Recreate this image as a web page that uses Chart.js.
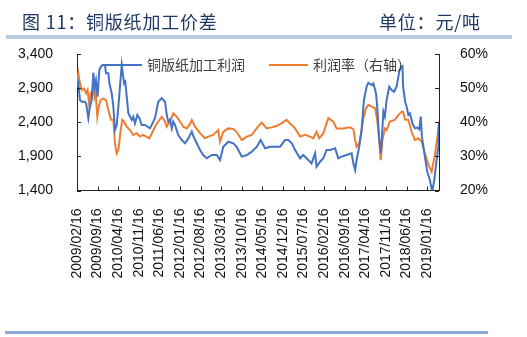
<!DOCTYPE html>
<html>
<head>
<meta charset="utf-8">
<script src="https://cdn.jsdelivr.net/npm/chart.js@4.4.0/dist/chart.umd.min.js"></script>
<style>
  html, body { margin: 0; padding: 0; background: #fff; }
  #wrap { position: relative; width: 527px; height: 337px; overflow: hidden; }
  #chart { position: absolute; left: 0; top: 0; }
  .head { position: absolute; top: 8px; font-family: "Noto Sans CJK SC"; font-size: 18px; letter-spacing: 0.8px; color: #1f3864; white-space: nowrap; }
  #title { left: 22px; }
  #unit { left: 379px; }
  #topRule { position: absolute; left: 6px; top: 35px; width: 506px; height: 4px; background: #b9cbe0; }
  #bottomRule { position: absolute; left: 5px; top: 331px; width: 483px; height: 3px; background: #8eaadb; }
</style>
</head>
<body>
<div id="wrap">
  <canvas id="chart" width="527" height="337"></canvas>
  <div class="head" id="title">图 11：铜版纸加工价差</div>
  <div class="head" id="unit">单位：元/吨</div>
  <div id="topRule"></div>
  <div id="bottomRule"></div>
</div>
<script>
// months counted from 2009/02/16
const tickLabels = ['2009/02/16', '2009/09/16', '2010/04/16', '2010/11/16', '2011/06/16', '2012/01/16',
  '2012/08/16', '2013/03/16', '2013/10/16', '2014/05/16', '2014/12/16', '2015/07/16', '2016/02/16',
  '2016/09/16', '2017/04/16', '2017/11/16', '2018/06/16', '2019/01/16'];
const leftTicks = [1400, 1900, 2400, 2900, 3400];
const rightTicks = [20, 25, 30, 35, 40, 45, 50, 55, 60];

// 铜版纸加工利润 (元/吨)
const profitMonth = [0, 0.45, 1, 1.6, 2.7, 3.1, 3.85, 4.4, 5, 5.55, 6, 6.45, 7, 7.6, 8.15, 8.7, 9.5, 9.85,
  10.65, 11, 11.8, 12.35, 12.9, 13.5, 14.05, 15.2, 16, 16.4, 16.9, 17.45, 18.6, 19.1, 19.7, 20.5, 21.2, 22,
  23.1, 24.8, 26.5, 27.6, 28.8, 29.9, 30.5, 31, 31.6, 32.2, 32.7, 33.3, 34.4, 35.6, 36.7, 37.8, 39, 39.5,
  40.7, 41.8, 42.9, 44.1, 45.8, 47.5, 48.6, 49.7, 51.4, 53.1, 54.2, 56, 57.7, 59.4, 61.1, 62.4, 63.9, 65.6,
  67.3, 69, 70.7, 71.8, 73, 74.1, 75.8, 76.9, 78.6, 79.7, 80.9, 81.4, 82.6, 83.7, 84.8, 86, 87.7, 88.8, 89.9,
  91.6, 93.3, 93.9, 94.5, 95, 95.9, 96.7, 97.5, 98.4, 99, 100.1, 100.7, 101.6, 102, 102.7, 103.2, 103.6,
  104.1, 104.6, 105.2, 106.1, 106.9, 107.7, 108.6, 109.5, 110.1, 110.6, 110.8, 111.5, 112, 112.6, 113.1,
  114, 114.8, 115.6, 116.3, 116.8, 117.2, 118.2, 119, 119.9, 120.7, 121.4, 122.2, 122.8, 123];
const profitValue = [2921, 2980, 2726, 2701, 2701, 2678, 2458, 2628, 2726, 3126, 2921, 3019, 2775, 3166,
  3214, 3239, 3239, 3117, 3117, 2971, 2824, 2628, 2287, 2360, 2628, 3239, 2971, 2995, 2775, 2531, 2433,
  2482, 2384, 2506, 2458, 2360, 2360, 2311, 2458, 2701, 2751, 2701, 2506, 2409, 2440, 2311, 2409, 2360,
  2213, 2140, 2092, 2160, 2262, 2200, 2092, 1994, 1920, 1872, 1920, 1920, 1847, 2042, 2115, 2092, 2042,
  1896, 1920, 1969, 2042, 2140, 2018, 2042, 2042, 2042, 2140, 2140, 2092, 1994, 1872, 1920, 1847, 1798,
  1945, 1749, 1822, 1872, 1994, 1994, 2018, 1872, 1896, 1920, 1945, 1798, 1701, 1847, 2042, 2287, 2726,
  2921, 2980, 2946, 2971, 2824, 2628, 2140, 1945, 2189, 2555, 2482, 2726, 2921, 2873, 2848, 2921, 3141,
  3214, 3224, 2921, 2701, 2628, 2506, 2531, 2384, 2311, 2323, 2298, 2482, 2189, 1896, 1677, 1555, 1380,
  1555, 1847, 2042, 2380];

// 利润率（右轴） (%)
const marginMonth = [0, 0.45, 0.8, 1.6, 2.4, 3.1, 3.6, 4.1, 4.7, 5.55, 5.9, 6.3, 6.9, 7.4, 8, 8.9, 9.85,
  10.65, 11.55, 12.35, 12.9, 13.5, 14.05, 14.85, 15.4, 16, 16.9, 18, 19.1, 20.3, 21.4, 22.5, 24.6, 26.8,
  28.8, 29.9, 30.5, 31.6, 32.7, 33.9, 35, 36.1, 37.3, 38.4, 39, 40.1, 41.8, 43.5, 44.6, 46.3, 48, 48.6,
  49.7, 51.4, 53.1, 54.2, 56, 57.7, 59.4, 61.3, 62.8, 64.4, 66.1, 67.8, 69.5, 71.2, 72.3, 74.1, 75.8, 77.5,
  79.2, 80.3, 81.4, 82.3, 83.7, 85.4, 87.1, 88.2, 90.5, 92.7, 93.9, 94.5, 95, 95.9, 96.7, 97.2, 98.2, 99,
  100.1, 101.3, 102, 102.7, 103.2, 103.8, 104.6, 105.2, 106.3, 108, 109.2, 110.3, 110.8, 111.5, 112.6,
  113.7, 114.8, 116, 117.1, 118.2, 119.4, 120.5, 121.6, 122.5, 123];
const marginValue = [51.4, 54.3, 52.4, 49.4, 49.9, 48.5, 49.4, 45.5, 48.5, 49.9, 47.5, 49.4, 41.6, 44.6,
  46.5, 47.0, 46.5, 43.6, 40.7, 40.7, 33.8, 30.9, 31.9, 37.7, 40.7, 40.2, 38.7, 37.7, 36.3, 36.8, 35.8,
  36.3, 35.3, 39.2, 41.6, 40.2, 38.7, 40.2, 42.6, 41.6, 40.2, 38.7, 38.2, 39.5, 40.7, 38.7, 36.8, 35.3,
  35.8, 36.3, 37.7, 34.3, 37.2, 38.2, 38.0, 37.2, 34.8, 35.8, 36.3, 38.5, 39.9, 38.2, 38.5, 38.9, 39.7,
  40.7, 39.7, 38.2, 35.8, 36.3, 35.8, 35.3, 37.2, 35.3, 36.8, 41.2, 40.2, 38.2, 38.2, 38.5, 38.0, 34.8,
  32.8, 33.8, 37.7, 40.7, 44.1, 45.1, 44.6, 44.1, 40.7, 34.8, 28.9, 34.8, 38.2, 37.7, 40.2, 40.7, 42.1,
  43.1, 43.1, 40.7, 40.7, 37.2, 34.8, 35.3, 34.3, 30.9, 27.5, 25.5, 30.4, 35.8, 40.2];

const BLUE = '#4472c4';
const ORANGE = '#ed7d31';
const AXIS = '#222';
const tickFont = { family: 'Liberation Sans', size: 14 };

// ticks point into the plot, like the source
const innerTicks = {
  id: 'innerTicks',
  afterDraw(chart) {
    const { ctx, chartArea: a, scales } = chart;
    ctx.save();
    ctx.strokeStyle = AXIS;
    ctx.lineWidth = 1;
    ctx.beginPath();
    scales.y.ticks.forEach(t => {
      const y = Math.round(scales.y.getPixelForValue(t.value)) + 0.5;
      ctx.moveTo(a.left, y); ctx.lineTo(a.left + 4, y);
    });
    scales.y1.ticks.forEach(t => {
      const y = Math.round(scales.y1.getPixelForValue(t.value)) + 0.5;
      ctx.moveTo(a.right, y); ctx.lineTo(a.right - 4, y);
    });
    scales.x.ticks.forEach(t => {
      const x = Math.round(scales.x.getPixelForValue(t.value)) + 0.5;
      ctx.moveTo(x, a.bottom); ctx.lineTo(x, a.bottom - 4);
    });
    ctx.stroke();
    ctx.restore();
  }
};

// legend sits inside the plot area
const innerLegend = {
  id: 'innerLegend',
  afterDraw(chart) {
    const { ctx, chartArea: a } = chart;
    const y = a.top + 11;
    const items = [[a.left + 26, 0], [a.left + 192, 1]];
    ctx.save();
    ctx.font = '14px "Noto Sans CJK SC"';
    ctx.textBaseline = 'middle';
    items.forEach(([x, i]) => {
      const ds = chart.data.datasets[i];
      ctx.strokeStyle = ds.borderColor;
      ctx.lineWidth = 2;
      ctx.beginPath();
      ctx.moveTo(x, y); ctx.lineTo(x + 39, y);
      ctx.stroke();
      ctx.fillStyle = '#404040';
      ctx.fillText(ds.label, x + 44, y);
    });
    ctx.restore();
  }
};

new Chart(document.getElementById('chart'), {
  type: 'line',
  data: {
    datasets: [
      {
        label: '铜版纸加工利润',
        data: profitMonth.map((m, i) => ({ x: m, y: profitValue[i] })),
        borderColor: BLUE, borderWidth: 2, pointRadius: 0, yAxisID: 'y'
      },
      {
        label: '利润率（右轴）',
        data: marginMonth.map((m, i) => ({ x: m, y: marginValue[i] })),
        borderColor: ORANGE, borderWidth: 2, pointRadius: 0, yAxisID: 'y1'
      }
    ]
  },
  options: {
    responsive: false,
    animation: false,
    layout: { padding: { top: 54, left: 0, right: 0, bottom: 0 } },
    plugins: { legend: { display: false }, tooltip: { enabled: false } },
    scales: {
      x: {
        type: 'linear', min: 0, max: 123,
        afterBuildTicks: s => { s.ticks = tickLabels.map((_, i) => ({ value: i * 7 })); },
        afterFit: s => { s.height = 146.5; },
        ticks: {
          autoSkip: false, minRotation: 90, maxRotation: 90, padding: 10,
          font: tickFont, color: '#111',
          callback: (v, i) => tickLabels[i]
        },
        grid: { display: false },
        border: { color: AXIS, width: 1 }
      },
      y: {
        position: 'left', min: 1400, max: 3400,
        afterBuildTicks: s => { s.ticks = leftTicks.map(v => ({ value: v })); },
        afterFit: s => { s.width = 77; },
        ticks: { padding: 16, font: tickFont, color: '#111', callback: v => v.toLocaleString('en-US') },
        grid: { display: false },
        border: { color: AXIS, width: 1 }
      },
      y1: {
        position: 'right', min: 20, max: 60,
        afterBuildTicks: s => { s.ticks = rightTicks.map(v => ({ value: v })); },
        afterFit: s => { s.width = 88; },
        ticks: { padding: 13, font: tickFont, color: '#111', callback: v => v + '%' },
        grid: { display: false },
        border: { color: AXIS, width: 1 }
      }
    }
  },
  plugins: [innerTicks, innerLegend]
});
</script>
</body>
</html>
